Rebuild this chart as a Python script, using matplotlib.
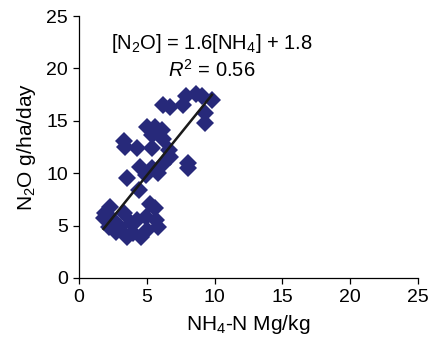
import matplotlib
matplotlib.use("Agg")
import matplotlib.pyplot as plt
import numpy as np

plt.rcParams['font.family'] = ['Liberation Sans', 'DejaVu Sans']
plt.rcParams['mathtext.fontset'] = 'custom'
plt.rcParams['mathtext.rm'] = 'Liberation Sans'
plt.rcParams['mathtext.it'] = 'Liberation Sans:italic'
plt.rcParams['mathtext.bf'] = 'Liberation Sans:bold'

nh4 = [6.2, 6.7, 7.9, 8.6, 9.1, 9.8, 7.7, 9.3, 9.3, 8.0, 8.0,
       5.0, 5.6, 6.1, 5.4, 6.2, 5.4, 6.6, 6.7, 6.2, 3.3, 3.4, 4.3, 4.5,
       5.4, 5.8, 3.5, 4.4, 4.9,
       1.9, 2.3, 1.8, 2.5, 3.3, 2.2, 3.0, 3.8, 4.3, 4.0, 4.6, 5.0, 5.2,
       5.6, 5.7, 5.8, 4.9, 3.5, 2.7]
n2o = [16.5, 16.3, 17.4, 17.6, 17.4, 17.0, 16.5, 15.7, 14.8, 11.0, 10.5,
       14.4, 14.4, 14.1, 13.6, 13.3, 12.4, 12.2, 11.5, 10.9, 13.1, 12.5, 12.4, 10.6,
       10.5, 10.0, 9.5, 8.4, 9.8,
       6.2, 6.8, 5.7, 5.5, 6.2, 4.9, 4.9, 5.2, 5.5, 4.3, 3.9, 4.6, 7.1,
       6.7, 5.5, 4.9, 5.8, 3.9, 4.4]
slope = 1.6
intercept = 1.8
eq_text = "[N$_2$O] = 1.6[NH$_4$] + 1.8"
r2_text = "$R^2$ = 0.56"
xticks = [0, 5, 10, 15, 20, 25]
yticks = [0, 5, 10, 15, 20, 25]

fig = plt.figure(figsize=(4.3, 3.5), dpi=100)
ax = fig.add_axes([0.184, 0.206, 0.788, 0.748])

ax.plot(nh4, n2o, linestyle='none', marker='D', markersize=9.5,
        color='#27297a', markeredgewidth=0)
xl = np.array([min(nh4), max(nh4)])
ax.plot(xl, slope * xl + intercept, color='#1a1a1a', linewidth=1.8)

ax.set_xlim(0, 25)
ax.set_ylim(0, 25)
ax.set_xticks(xticks)
ax.set_yticks(yticks)
for s in ['top', 'right']:
    ax.spines[s].set_visible(False)
for s in ['left', 'bottom']:
    ax.spines[s].set_linewidth(0.9)
ax.tick_params(direction='out', length=4, width=0.9, labelsize=14, pad=4)

ax.set_xlabel("NH$_4$-N Mg/kg", fontsize=15, labelpad=5)
ax.set_ylabel("N$_2$O g/ha/day", fontsize=15, labelpad=6)

ax.text(9.8, 22.4, eq_text, ha='center', va='center', fontsize=14.5)
ax.text(9.8, 19.9, r2_text, ha='center', va='center', fontsize=14.5)

fig.savefig("out.png", dpi=100)
